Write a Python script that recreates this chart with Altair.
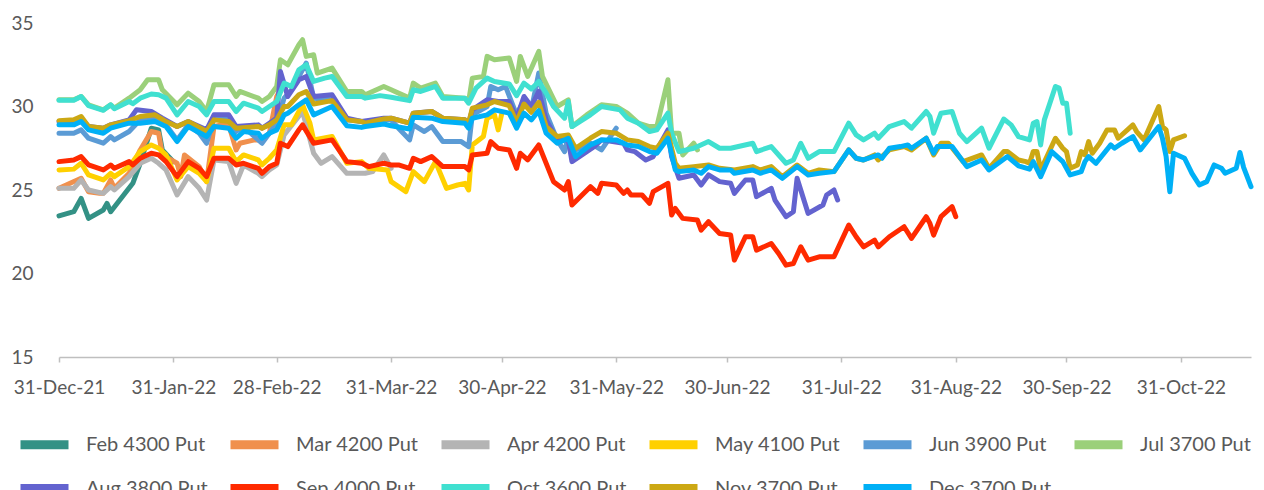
import altair as alt
import pandas as pd

BASE_DATE = "2021-12-31"

series_names = ["Feb 4300 Put", "Mar 4200 Put", "Apr 4200 Put", "May 4100 Put",
                "Jun 3900 Put", "Jul 3700 Put", "Aug 3800 Put", "Sep 4000 Put",
                "Oct 3600 Put", "Nov 3700 Put", "Dec 3700 Put"]
series_colors = ["#339185", "#F0904D", "#B4B4B4", "#FFD000", "#5B9BD5", "#9BD07A",
                 "#6363CF", "#FF2A00", "#40E0D0", "#CCA814", "#00B0F6"]

# days since 31-Dec-21, and values
feb_days = [0, 4, 6, 8, 12, 13, 14, 20, 22, 25, 27, 28, 31]
feb_vals = [23.45, 23.7, 24.5, 23.3, 23.8, 24.2, 23.7, 25.4, 26.6, 28.7, 28.6, 27.4, 26.7]

mar_days = [0, 6, 8, 11, 12, 14, 15, 19, 22, 25, 27, 28, 32, 33, 34, 38, 40, 42, 44, 46, 48, 49, 53, 55, 57, 59, 60]
mar_vals = [25.1, 25.7, 24.9, 24.8, 24.8, 25.6, 25.1, 26.0, 27.4, 28.5, 28.4, 27.1, 26.6, 25.8, 27.1, 26.4, 25.5,
            28.8, 28.9, 28.9, 27.4, 27.8, 28.0, 28.0, 28.4, 30.6, 31.0]

apr_days = [0, 4, 6, 8, 12, 14, 15, 19, 22, 25, 27, 29, 32, 35, 38, 40, 42, 46, 48, 50, 54, 55, 57, 59, 61,
            66, 69, 71, 74, 78, 83, 85, 88, 90]
apr_vals = [25.1, 25.1, 25.6, 25.0, 24.8, 25.2, 25.0, 25.8, 26.6, 26.9, 26.6, 26.2, 24.7, 25.8, 25.1, 24.4,
            26.8, 26.7, 25.4, 26.5, 26.0, 25.8, 26.2, 26.5, 28.3, 29.7, 27.2, 26.6, 27.0, 26.0, 26.0, 26.1,
            27.1, 26.3]

may_days = [0, 4, 6, 8, 12, 14, 15, 19, 22, 25, 27, 29, 32, 35, 38, 40, 42, 46, 48, 50, 54, 55, 57, 59, 61,
            63, 65, 66, 68, 69, 74, 78, 82, 84, 89, 90, 94, 96, 99, 102, 105, 108, 110, 111, 112, 115, 116,
            118, 119, 120]
may_vals = [26.2, 26.25, 26.6, 25.9, 25.6, 26.0, 25.8, 26.4, 27.3, 27.7, 27.5, 27.1, 25.6, 26.4, 26.0, 25.5,
            27.5, 27.5, 26.7, 27.1, 26.8, 26.5, 26.9, 27.4, 28.9, 28.9, 29.7, 30.1, 29.0, 28.0, 28.2, 26.6,
            26.7, 26.3, 26.2, 25.5, 24.9, 26.1, 25.5, 26.7, 25.1, 25.3, 25.4, 25.0, 27.7, 28.2, 29.3, 29.5,
            28.6, 29.6]

jun_days = [0, 4, 6, 8, 12, 14, 15, 19, 22, 25, 27, 29, 32, 35, 38, 40, 42, 46, 48, 50, 54, 55, 57, 59, 61,
            63, 67, 69, 74, 78, 82, 84, 88, 90, 92, 95, 96, 99, 101, 104, 109, 111, 112, 116, 117, 119, 121,
            124, 126, 128, 130, 132, 135, 137, 138, 140, 144, 147, 151]
jun_vals = [28.4, 28.4, 28.6, 28.1, 27.8, 28.2, 28.0, 28.5, 29.2, 29.3, 29.2, 28.9, 28.0, 28.9, 28.4, 27.8,
            29.3, 29.3, 28.5, 28.8, 28.0, 27.8, 28.4, 29.0, 30.5, 31.0, 32.6, 30.5, 30.4, 29.2, 29.1, 29.0,
            29.2, 29.2, 28.7, 28.0, 28.9, 28.5, 28.8, 27.9, 27.9, 27.6, 29.5, 30.0, 31.2, 31.0, 31.2, 29.5,
            30.4, 29.8, 32.0, 29.6, 28.0, 27.3, 28.2, 27.4, 27.8, 27.4, 28.7]

jul_days = [0, 4, 6, 8, 12, 14, 15, 19, 22, 24, 27, 28, 32, 35, 38, 40, 42, 46, 48, 49, 54, 55, 57, 59, 60,
            62, 65, 66, 67, 69, 70, 74, 78, 82, 83, 88, 90, 95, 96, 98, 102, 104, 110, 111, 112, 115, 116,
            118, 122, 124, 125, 127, 130, 131, 135, 138, 139, 143, 147, 151, 154, 157, 160, 162, 165, 166,
            168, 169, 172, 173]
jul_vals = [30.4, 30.4, 30.6, 30.1, 29.8, 30.1, 29.9, 30.5, 31.0, 31.6, 31.6, 31.0, 30.1, 30.8, 30.3, 29.7,
            31.3, 31.3, 30.6, 30.9, 30.5, 30.3, 30.6, 31.2, 32.8, 32.5, 33.7, 34.0, 33.0, 33.1, 32.0, 32.3,
            30.9, 30.9, 30.7, 31.2, 31.0, 30.5, 31.4, 31.1, 31.4, 30.6, 30.5, 30.3, 31.7, 31.8, 33.0, 32.8,
            32.9, 31.5, 33.0, 31.8, 33.3, 31.8, 30.0, 30.4, 28.8, 29.5, 30.1, 30.0, 29.6, 29.0, 28.8, 28.8,
            31.6, 28.4, 28.4, 27.1, 27.8, 27.4]

aug_days = [0, 4, 6, 8, 12, 14, 19, 21, 25, 28, 32, 35, 40, 42, 46, 48, 54, 55, 57, 59, 60, 62, 65, 67, 69,
            74, 78, 82, 88, 90, 95, 96, 101, 104, 110, 111, 112, 116, 119, 122, 124, 126, 128, 130, 132, 135,
            138, 139, 143, 145, 147, 150, 153, 154, 156, 159, 161, 165, 166, 168, 172, 174, 176, 179, 182,
            183, 186, 188, 189, 193, 194, 197, 199, 200, 203, 207, 208, 210, 211]
aug_vals = [29.1, 29.1, 29.3, 28.8, 28.7, 28.9, 29.2, 29.8, 29.7, 29.3, 28.8, 29.1, 28.6, 29.5, 29.5, 28.8,
            28.9, 28.7, 29.0, 29.3, 32.1, 30.6, 31.6, 31.8, 30.6, 30.7, 29.3, 29.1, 29.3, 29.3, 29.0, 29.6,
            29.7, 29.3, 29.2, 29.0, 29.8, 30.4, 30.3, 30.3, 29.3, 30.6, 30.0, 30.9, 29.2, 28.0, 28.0, 26.7,
            27.3, 27.6, 28.0, 27.9, 27.8, 27.4, 27.3, 26.8, 27.0, 28.6, 27.0, 25.7, 25.9, 25.3, 25.9, 25.5,
            25.4, 24.8, 25.6, 25.6, 24.6, 25.1, 24.4, 23.4, 23.7, 25.7, 23.6, 24.1, 24.7, 25.0, 24.4]

sep_days = [0, 4, 6, 8, 12, 14, 15, 19, 20, 22, 25, 27, 29, 32, 35, 38, 40, 42, 46, 48, 50, 54, 55, 57, 59,
            60, 62, 65, 66, 69, 74, 78, 82, 84, 88, 90, 92, 95, 96, 98, 101, 104, 110, 111, 112, 116, 117,
            119, 122, 124, 125, 127, 130, 134, 137, 138, 139, 144, 146, 147, 151, 153, 154, 155, 158, 160,
            161, 165, 166, 167, 169, 173, 174, 176, 179, 182, 183, 186, 188, 189, 193, 195, 197, 199, 201,
            203, 206, 210, 214, 216, 218, 221, 222, 225, 229, 231, 235, 236, 237, 239, 242, 243]
sep_vals = [26.7, 26.8, 27.0, 26.5, 26.2, 26.5, 26.3, 26.7, 26.5, 26.9, 27.2, 27.1, 26.7, 25.8, 26.7, 26.3,
            25.8, 26.9, 26.9, 26.5, 26.6, 26.3, 26.0, 26.4, 26.6, 27.8, 27.6, 28.6, 28.9, 27.8, 28.0, 26.7,
            26.6, 26.4, 26.6, 26.5, 26.5, 26.3, 26.9, 26.7, 27.0, 26.4, 26.4, 26.2, 27.1, 27.2, 27.9, 27.5,
            27.4, 26.3, 27.2, 26.8, 27.7, 25.5, 25.0, 25.5, 24.1, 25.2, 24.8, 25.4, 25.3, 24.8, 25.0, 24.7,
            24.7, 24.2, 24.9, 25.4, 23.5, 23.9, 23.3, 23.2, 22.6, 23.1, 22.4, 22.3, 20.8, 22.2, 22.2, 21.4,
            21.8, 21.2, 20.5, 20.6, 21.6, 20.8, 21.0, 21.0, 22.9, 22.2, 21.6, 22.0, 21.6, 22.2, 22.8, 22.1,
            23.4, 23.0, 22.3, 23.4, 24.0, 23.4]

oct_days = [0, 4, 6, 8, 12, 14, 15, 19, 20, 22, 25, 27, 29, 32, 35, 38, 40, 42, 46, 48, 50, 54, 55, 57, 59,
            61, 63, 65, 67, 69, 72, 74, 78, 82, 83, 87, 90, 95, 96, 98, 102, 104, 110, 111, 113, 116, 118,
            122, 124, 126, 128, 130, 132, 134, 137, 138, 139, 144, 147, 152, 154, 157, 160, 162, 165, 166,
            168, 172, 176, 179, 182, 188, 189, 193, 197, 199, 201, 203, 206, 210, 214, 216, 218, 221, 222,
            225, 229, 231, 235, 236, 237, 239, 242, 244, 246, 250, 252, 256, 258, 260, 263, 264, 265, 266,
            267, 270, 271, 272, 273, 274]
oct_vals = [30.37, 30.37, 30.6, 30.05, 29.77, 30.1, 29.87, 30.3, 30.17, 30.5, 30.75, 30.7, 30.5, 29.5, 30.3,
            30.0, 29.5, 30.3, 30.3, 29.7, 30.2, 29.9, 29.7, 30.0, 30.3, 31.4, 31.2, 32.2, 32.5, 31.5, 31.7,
            31.8, 30.6, 30.6, 30.5, 30.65, 30.55, 30.35, 31.0, 30.9, 31.2, 30.5, 30.5, 30.2, 31.1, 31.7, 31.5,
            31.35, 30.65, 31.4, 31.05, 31.5, 30.8, 30.0, 29.3, 30.3, 28.8, 29.5, 30.0, 29.8, 29.3, 29.0, 28.5,
            28.6, 29.6, 28.4, 27.3, 27.5, 27.9, 27.5, 27.5, 27.8, 27.3, 27.6, 26.6, 26.8, 27.8, 26.9, 27.3,
            27.3, 29.0, 28.3, 28.0, 28.4, 28.1, 28.8, 29.1, 28.7, 29.7, 29.4, 28.4, 29.6, 29.7, 28.4, 27.9,
            28.7, 27.5, 29.25, 28.9, 28.2, 28.0, 29.0, 29.1, 27.7, 29.2, 31.2, 31.1, 30.2, 30.2, 28.4]

nov_days = [0, 4, 6, 8, 12, 14, 19, 22, 26, 29, 32, 35, 40, 42, 46, 48, 54, 55, 57, 59, 61, 62, 65, 67, 69,
            74, 78, 82, 83, 88, 90, 95, 96, 101, 104, 110, 111, 112, 116, 118, 122, 124, 126, 128, 130, 132,
            135, 138, 140, 144, 147, 151, 154, 157, 160, 162, 165, 167, 168, 172, 176, 179, 183, 188, 190,
            193, 196, 200, 203, 206, 210, 214, 216, 218, 221, 222, 225, 229, 231, 235, 237, 239, 241, 245,
            250, 252, 256, 257, 260, 262, 263, 264, 265, 266, 270, 272, 273, 274, 276, 277, 278, 279, 280,
            282, 284, 286, 287, 291, 292, 294, 298, 299, 300, 301, 302, 305]
nov_vals = [29.15, 29.2, 29.4, 28.8, 28.7, 28.9, 29.15, 29.4, 29.5, 29.1, 28.8, 29.1, 28.5, 29.2, 29.1, 28.7,
            28.8, 28.7, 28.9, 29.2, 30.0, 30.0, 30.7, 30.9, 30.15, 30.35, 29.2, 29.1, 29.0, 29.25, 29.3, 29.0,
            29.6, 29.7, 29.3, 29.2, 29.0, 29.9, 30.1, 30.3, 30.05, 29.05, 30.15, 29.65, 30.25, 28.8, 28.2,
            28.3, 27.5, 28.1, 28.5, 28.4, 28.0, 27.9, 27.6, 27.5, 28.4, 26.6, 26.3, 26.4, 26.5, 26.3, 26.2,
            26.4, 26.2, 26.4, 25.8, 26.5, 26.0, 26.2, 26.1, 27.4, 26.9, 26.8, 27.1, 26.8, 27.4, 27.6, 27.4,
            28.1, 27.1, 27.8, 27.8, 26.7, 27.1, 26.3, 27.3, 27.3, 26.8, 26.7, 26.6, 27.3, 27.3, 26.2, 28.1,
            27.5, 27.3, 26.3, 26.5, 27.3, 27.1, 27.9, 27.2, 27.8, 28.6, 28.6, 28.1, 28.9, 28.5, 28.0, 30.0,
            28.8, 28.6, 27.3, 28.0, 28.25]

dec_days = [0, 4, 6, 8, 12, 14, 19, 22, 26, 29, 32, 35, 40, 42, 46, 48, 50, 54, 55, 57, 59, 61, 62, 65, 67,
            69, 74, 78, 82, 83, 88, 90, 95, 96, 101, 104, 110, 111, 112, 116, 118, 122, 124, 126, 128, 130,
            132, 135, 138, 140, 144, 147, 151, 154, 157, 160, 162, 165, 167, 168, 172, 174, 176, 179, 182,
            183, 188, 190, 193, 196, 200, 203, 206, 210, 214, 216, 218, 222, 223, 225, 228, 230, 231, 235,
            237, 238, 242, 246, 250, 252, 257, 260, 263, 264, 266, 269, 272, 274, 277, 278, 279, 281, 285,
            286, 288, 291, 293, 298, 299, 300, 301, 302, 305, 307, 309, 311, 313, 315, 316, 319, 320, 321,
            323]
dec_vals = [28.9, 28.9, 29.1, 28.6, 28.4, 28.7, 29.0, 29.0, 29.1, 28.8, 27.9, 28.8, 28.2, 28.8, 28.7, 28.1,
            28.5, 28.4, 28.1, 28.4, 28.6, 29.5, 29.6, 30.1, 30.4, 29.5, 30.0, 28.85, 28.75, 28.8, 28.95, 28.85,
            28.65, 29.35, 29.3, 29.1, 29.0, 28.7, 29.3, 29.5, 29.8, 29.6, 28.7, 29.6, 29.2, 29.75, 28.4, 27.8,
            28.1, 27.0, 27.7, 28.0, 28.0, 27.7, 27.6, 27.3, 27.2, 28.1, 26.2, 26.1, 26.2, 26.0, 26.4, 26.2,
            26.2, 26.0, 26.2, 26.0, 26.2, 25.7, 26.4, 25.9, 26.0, 26.1, 27.4, 26.9, 26.8, 27.1, 26.9, 27.5,
            27.6, 27.7, 27.5, 28.1, 27.2, 27.6, 27.6, 26.4, 26.8, 26.2, 27.0, 26.45, 26.25, 26.7, 25.8, 27.3,
            26.7, 25.9, 26.1, 26.7, 27.0, 26.6, 27.7, 27.5, 27.8, 28.2, 27.4, 28.8, 28.1, 27.0, 24.9, 27.2,
            26.9, 26.0, 25.3, 25.5, 26.5, 26.3, 26.0, 26.3, 27.25, 26.35, 25.2]

all_days = [feb_days, mar_days, apr_days, may_days, jun_days, jul_days,
            aug_days, sep_days, oct_days, nov_days, dec_days]
all_vals = [feb_vals, mar_vals, apr_vals, may_vals, jun_vals, jul_vals,
            aug_vals, sep_vals, oct_vals, nov_vals, dec_vals]

tick_dates = ["2021-12-31", "2022-01-31", "2022-02-28", "2022-03-31", "2022-04-30", "2022-05-31",
              "2022-06-30", "2022-07-31", "2022-08-31", "2022-09-30", "2022-10-31"]
x_end = "2022-11-19"
y_ticks = [15, 20, 25, 30, 35]

base = pd.Timestamp(BASE_DATE)
rows = []
for name, ds, vs in zip(series_names, all_days, all_vals):
    for d, v in zip(ds, vs):
        rows.append({"date": (base + pd.Timedelta(days=d)).strftime("%Y-%m-%d"),
                     "value": v, "series": name})
df = pd.DataFrame(rows)


def ms(s):
    return int(pd.Timestamp(s).value // 10**6)


FONT = "Lato"
GREY = "#595959"

chart = alt.Chart(df).mark_line(
    strokeWidth=5, strokeCap="round", strokeJoin="round"
).encode(
    x=alt.X("date:T",
            scale=alt.Scale(type="utc", domain=[ms(BASE_DATE), ms(x_end)], nice=False),
            axis=alt.Axis(values=[ms(t) for t in tick_dates],
                          labelExpr="utcFormat(datum.value, '%d-%b-%y')",
                          title=None, grid=False, domainColor="#BFBFBF", domainWidth=1.5,
                          tickColor="#BFBFBF", tickWidth=1.5, tickSize=5, labelPadding=16,
                          labelFont=FONT, labelFontSize=19, labelColor=GREY, labelOverlap=False,
                          labelFlush=False)),
    y=alt.Y("value:Q",
            scale=alt.Scale(domain=[15, 35], nice=False, zero=False),
            axis=alt.Axis(values=y_ticks, title=None, grid=False, domain=False, ticks=False,
                          labelPadding=26, labelFont=FONT, labelFontSize=19, labelColor=GREY)),
    color=alt.Color("series:N",
                    scale=alt.Scale(domain=series_names, range=series_colors),
                    legend=alt.Legend(orient="none", legendX=-31, legendY=405, columns=6,
                                      direction="horizontal", title=None, padding=0,
                                      symbolType="M-2,0L2,0", symbolSize=576, symbolStrokeWidth=9,
                                      labelFont=FONT, labelFontSize=20, labelColor=GREY,
                                      labelOffset=25, columnPadding=4, rowPadding=7,
                                      labelLimit=0)),
).properties(
    width=1192, height=334,
    autosize=alt.AutoSizeParams(type="none"),
    padding={"left": 51, "top": 15, "right": 5, "bottom": 140},
).configure_view(stroke=None)

chart.save("out.html", embed_options={"renderer": "svg", "actions": False})
